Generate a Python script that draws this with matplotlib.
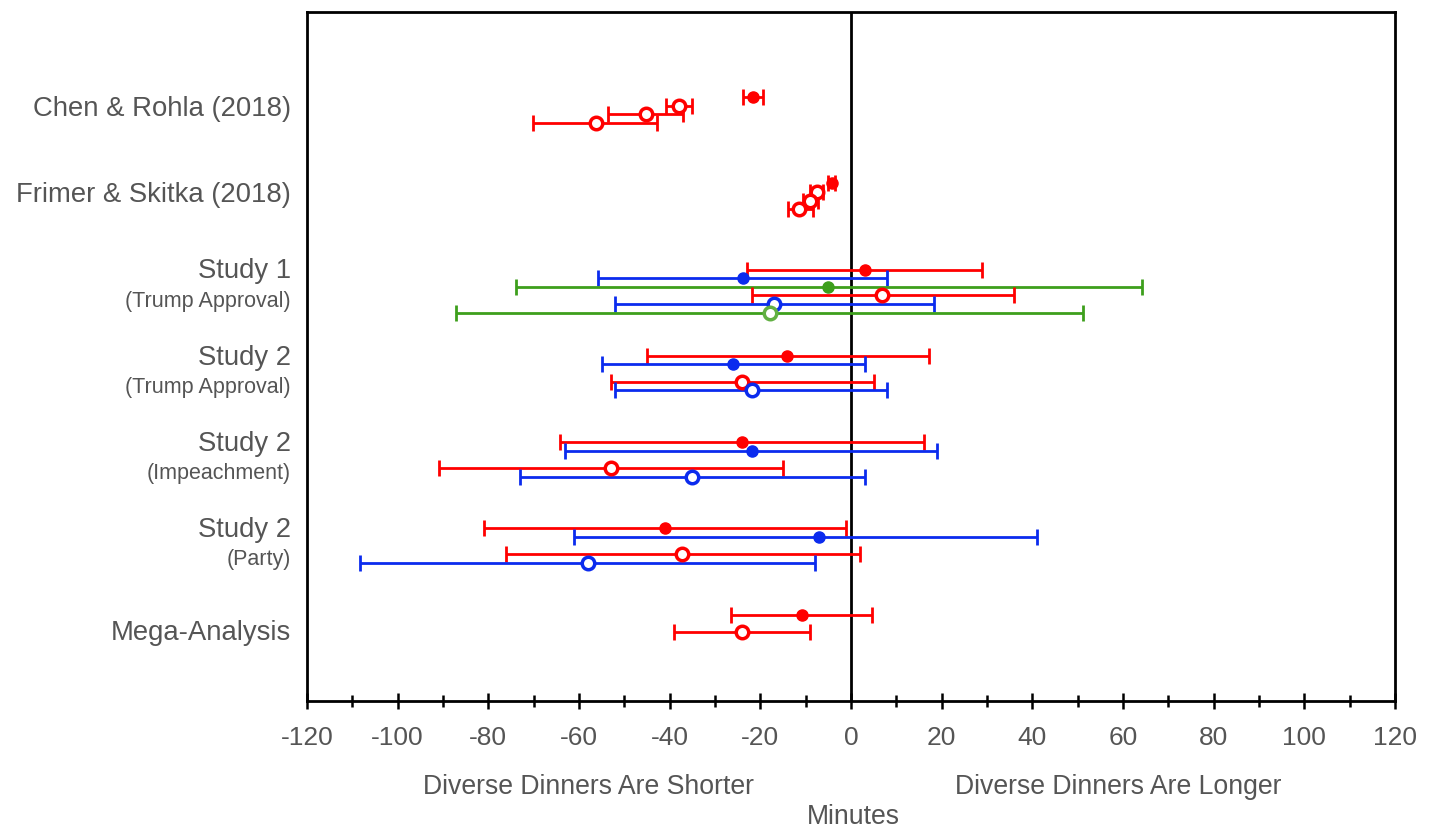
import matplotlib.pyplot as plt
from matplotlib.transforms import blended_transform_factory

plt.rcParams['font.family'] = ['Liberation Sans', 'DejaVu Sans']
plt.rcParams['axes.unicode_minus'] = False

# group labels (top to bottom)
group_titles = ['Chen & Rohla (2018)', 'Frimer & Skitka (2018)', 'Study 1', 'Study 2',
                'Study 2', 'Study 2', 'Mega-Analysis']
group_subtitles = [None, None, '(Trump Approval)', '(Trump Approval)',
                   '(Impeachment)', '(Party)', None]

# one entry per estimate: group, slot within group, colour series, filled?, mean, CI
est_group = [0, 0, 0, 0,
             1, 1, 1, 1,
             2, 2, 2, 2, 2, 2,
             3, 3, 3, 3,
             4, 4, 4, 4,
             5, 5, 5, 5,
             6, 6]
est_slot = [0, 1, 2, 3,
            0, 1, 2, 3,
            0, 1, 2, 3, 4, 5,
            0, 1, 3, 4,
            0, 1, 3, 4,
            0, 1, 3, 4,
            0, 2]
est_series = ['red', 'red', 'red', 'red',
              'red', 'red', 'red', 'red',
              'red', 'blue', 'green', 'red', 'blue', 'green',
              'red', 'blue', 'red', 'blue',
              'red', 'blue', 'red', 'blue',
              'red', 'blue', 'red', 'blue',
              'red', 'red']
est_filled = [True, False, False, False,
              True, False, False, False,
              True, True, True, False, False, False,
              True, True, False, False,
              True, True, False, False,
              True, True, False, False,
              True, False]
est_mean = [-21.6, -37.9, -45.2, -56.2,
            -4.3, -7.6, -9.0, -11.4,
            3.1, -23.9, -5.1, 6.9, -16.9, -17.9,
            -14.1, -26.0, -24.0, -21.8,
            -24.0, -21.9, -53.0, -35.0,
            -41.0, -7.0, -37.2, -58.0,
            -10.9, -24.0]
est_lo = [-23.8, -40.9, -53.6, -70.2,
          -5.0, -9.0, -10.6, -14.0,
          -22.9, -55.9, -74.0, -21.9, -52.1, -87.1,
          -45.1, -54.9, -53.0, -52.1,
          -64.1, -63.0, -90.8, -73.1,
          -81.0, -61.0, -76.0, -108.2,
          -26.5, -39.0]
est_hi = [-19.4, -35.1, -37.1, -42.7,
          -3.6, -6.2, -7.3, -8.3,
          29.0, 8.0, 64.3, 36.0, 18.2, 51.2,
          17.1, 3.0, 5.1, 8.0,
          16.1, 19.0, -15.1, 3.0,
          -1.1, 41.0, 2.0, -8.0,
          4.6, -9.0]

colors = {'red': '#ff0000', 'blue': '#0b2bee', 'green': '#3d9f1c'}
open_colors = {'red': '#ff0000', 'blue': '#0b2bee', 'green': '#62b043'}
text_grey = '#555555'

fig = plt.figure(figsize=(14.34, 8.30), dpi=100)
ax = fig.add_axes([307 / 1434, 1 - 701 / 830, 1088 / 1434, 689 / 830])

for g, s, ser, filled, m, lo, hi in zip(est_group, est_slot, est_series, est_filled,
                                         est_mean, est_lo, est_hi):
    y = g * 10 + s
    col = colors[ser] if filled else open_colors[ser]
    ax.errorbar([m], [y], xerr=[[m - lo], [hi - m]], fmt='none', ecolor=colors[ser],
                elinewidth=2, capsize=6, capthick=2, zorder=2)
    if filled:
        ax.plot(m, y, 'o', color=col, markersize=8, zorder=3)
    else:
        ax.plot(m, y, 'o', markerfacecolor='white', markeredgecolor=col,
                markersize=9, markeredgewidth=2.5, zorder=3)

ax.axvline(0, color='black', linewidth=2, zorder=1)

ax.set_xlim(-120, 120)
ax.set_ylim(70, -9.85)
ax.set_xticks(range(-120, 121, 20))
ax.set_xticks(range(-110, 120, 20), minor=True)
ax.set_yticks([])
ax.tick_params(axis='x', which='major', direction='inout', length=12, width=1.8,
               labelsize=19, labelcolor=text_grey, pad=12)
ax.tick_params(axis='x', which='minor', direction='inout', length=9, width=1.8)
for sp in ax.spines.values():
    sp.set_linewidth(2)

# group labels on the left
lab_tr = blended_transform_factory(ax.transAxes, ax.transData)
for g, (title, sub) in enumerate(zip(group_titles, group_subtitles)):
    if sub is None:
        yoff = 1.35 if g < 2 else 2.1
        ax.text(-0.0147, g * 10 + yoff, title, transform=lab_tr, ha='right', va='center',
                fontsize=19.8, color=text_grey)
    else:
        ax.text(-0.0147, g * 10 + 0.2, title, transform=lab_tr, ha='right', va='center',
                fontsize=19.8, color=text_grey)
        ax.text(-0.0147, g * 10 + 3.65, sub, transform=lab_tr, ha='right', va='center',
                fontsize=15.5, color=text_grey)

# bottom annotations
bot_tr = blended_transform_factory(ax.transData, fig.transFigure)
ax.text(-58, 1 - 787 / 830, 'Diverse Dinners Are Shorter', transform=bot_tr,
        ha='center', va='center', fontsize=19.2, color=text_grey)
ax.text(59, 1 - 787 / 830, 'Diverse Dinners Are Longer', transform=bot_tr,
        ha='center', va='center', fontsize=19.2, color=text_grey)
ax.text(0.5, 1 - 817 / 830, 'Minutes', transform=bot_tr,
        ha='center', va='center', fontsize=19.2, color=text_grey)

fig.savefig('out.png', dpi=100)
